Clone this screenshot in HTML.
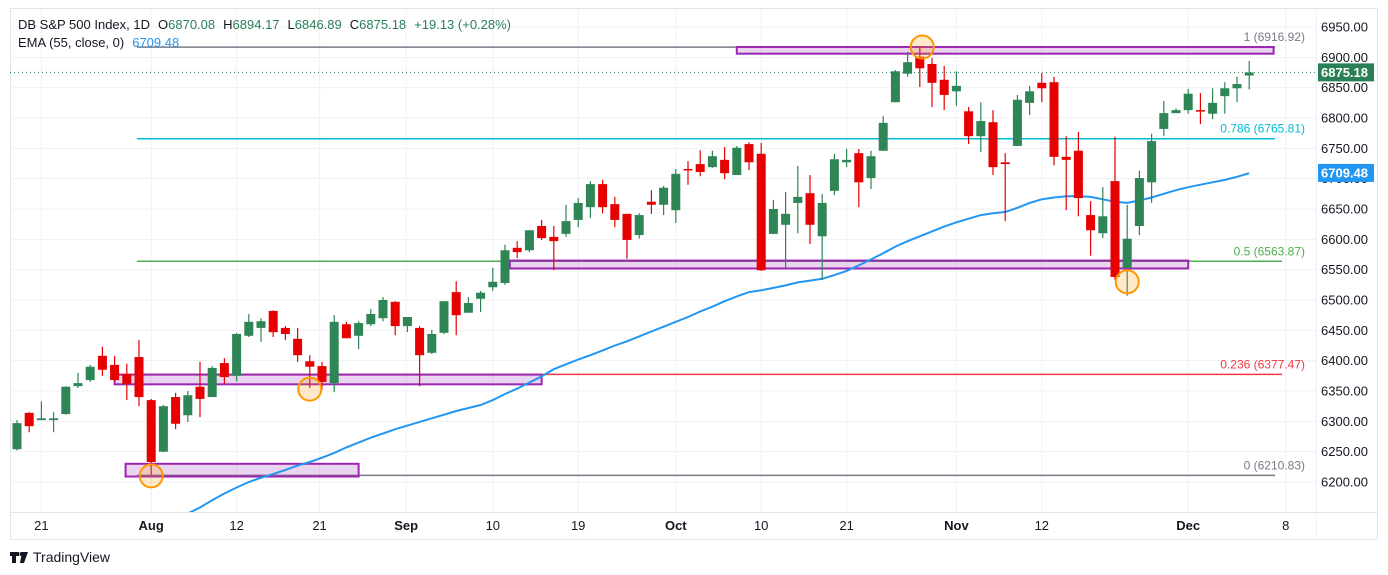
<!DOCTYPE html>
<html><head><meta charset="utf-8"><style>
html,body{margin:0;padding:0;background:#fff;width:1388px;height:575px;overflow:hidden;font-family:"Liberation Sans",sans-serif}
svg text{font-family:"Liberation Sans",sans-serif}
</style></head><body>
<svg id="c" width="1388" height="575" viewBox="0 0 1388 575"></svg>
<script>
const yTicks=[6950,6900,6850,6800,6750,6700,6650,6600,6550,6500,6450,6400,6350,6300,6250,6200];
const xLabels=["21","Aug","12","21","Sep","10","19","Oct","10","21","Nov","12","Dec","8"];
const xLabelIdx=[2,11,18,24.8,31.9,39,46,54,61,68,77,84,96,104];
const xLabelBold=[0,1,0,0,1,0,0,1,0,0,1,0,1,0];
const opens=[6254,6314,6302,6302,6312,6358,6368,6408,6393,6378,6406,6335,6250,6340,6310,6357,6340,6396,6375,6441,6454,6482,6454,6436,6399,6391,6363,6460,6441,6460,6470,6497,6457,6454,6413,6446,6513,6479,6502,6521,6528,6586,6582,6622,6604,6609,6632,6653,6691,6658,6642,6607,6662,6657,6648,6716,6724,6719,6731,6706,6757,6741,6609,6624,6660,6676,6605,6680,6727,6742,6701,6746,6826,6873,6901,6889,6863,6844,6811,6770,6793,6727,6754,6825,6858,6859,6736,6746,6640,6610,6696,6553,6622,6694,6782,6808,6813,6813,6807,6836,6849,6870];
const highs=[6302,6315,6333,6315,6358,6380,6393,6423,6408,6395,6434,6337,6327,6347,6350,6398,6391,6404,6446,6477,6470,6483,6457,6454,6409,6398,6475,6464,6465,6485,6505,6498,6472,6457,6451,6498,6531,6505,6515,6553,6591,6597,6615,6632,6622,6657,6668,6696,6698,6670,6642,6643,6681,6688,6716,6729,6747,6746,6752,6754,6760,6759,6665,6678,6721,6706,6675,6741,6749,6749,6746,6803,6879,6909,6917,6899,6886,6877,6818,6826,6813,6742,6838,6853,6874,6868,6770,6777,6663,6686,6769,6657,6713,6774,6828,6816,6848,6841,6849,6859,6868,6894];
const lows=[6252,6282,6302,6282,6311,6355,6365,6375,6366,6335,6325,6212,6249,6287,6299,6307,6340,6362,6366,6439,6431,6439,6434,6398,6355,6352,6348,6437,6419,6457,6465,6442,6447,6358,6411,6444,6442,6479,6480,6515,6525,6569,6579,6599,6549,6604,6620,6635,6643,6620,6568,6601,6642,6640,6627,6690,6704,6718,6699,6706,6714,6548,6609,6553,6610,6592,6533,6673,6719,6653,6683,6746,6826,6868,6851,6818,6813,6820,6757,6744,6706,6630,6754,6805,6826,6722,6648,6638,6573,6602,6533,6507,6607,6660,6770,6808,6807,6790,6798,6807,6826,6847];
const closes=[6297,6292,6305,6305,6357,6363,6390,6385,6368,6362,6340,6233,6325,6296,6343,6337,6388,6373,6444,6464,6465,6447,6444,6409,6390,6365,6464,6437,6462,6477,6500,6457,6472,6409,6444,6498,6475,6495,6512,6530,6582,6579,6615,6602,6597,6630,6660,6691,6653,6632,6599,6640,6657,6685,6708,6714,6711,6737,6709,6751,6727,6549,6650,6642,6670,6624,6660,6732,6731,6694,6737,6792,6877,6892,6882,6858,6838,6853,6770,6795,6719,6724,6830,6844,6849,6736,6731,6668,6615,6638,6538,6601,6701,6762,6808,6813,6840,6812,6825,6849,6856,6875];
const emaStart=14;
const ema=[6148,6158,6170,6181,6191,6200,6207,6213,6220,6227,6233,6240,6248,6257,6265,6273,6280,6287,6293,6299,6305,6311,6317,6322,6327,6335,6345,6354,6364,6374,6386,6394,6402,6409,6417,6425,6432,6440,6448,6456,6464,6472,6481,6489,6498,6506,6513,6516,6520,6524,6529,6532,6535,6541,6548,6557,6567,6577,6588,6597,6605,6613,6621,6628,6634,6640,6643,6645,6652,6660,6666,6669,6671,6671,6670,6666,6662,6660,6664,6669,6675,6681,6686,6690,6694,6698,6703,6709];
const fibLevels=[6916.92,6765.81,6563.87,6377.47,6210.83];
const fibNames=["1","0.786","0.5","0.236","0"];
const fibColors=["#787b86","#00bcd4","#4caf50","#f23645","#787b86"];
const boxes=[[59,103,6917,6906],[40.4,96,6565,6552],[8.0,43,6377,6361],[8.9,28,6230,6209]];
const circles=[[11,6210],[24,6353],[74.2,6917],[91,6530]];
const lastPrice=6875.18, emaLast=6709.48;

const svg=document.getElementById('c');const NS='http://www.w3.org/2000/svg';
function el(t,a,p){const e=document.createElementNS(NS,t);for(const k in a)e.setAttribute(k,a[k]);(p||svg).appendChild(e);return e;}
const X=i=>17+i*12.2;
const Y=p=>482-(p-6200)*0.60667;
const PL=10,PR=1316,PT=8,PB=512;
let r=el('rect',{x:10.5,y:8.5,width:1367,height:531,fill:'#fff',stroke:'#e0e3eb'});

const grid=el('g',{});
yTicks.forEach(t=>el('line',{x1:PL,x2:PR,y1:Y(t),y2:Y(t),stroke:'#f0f1f4'},grid));
xLabelIdx.forEach(i=>el('line',{x1:X(i),x2:X(i),y1:PT,y2:PB,stroke:'#f0f1f4'},grid));
el('line',{x1:PL,x2:1378,y1:PB+0.5,y2:PB+0.5,stroke:'#e0e3eb'});
el('line',{x1:PR+0.5,x2:PR+0.5,y1:PT,y2:540,stroke:'#f0f1f4'});
fibLevels.forEach((v,k)=>{
 const l=el('line',{x1:137,x2:k==2||k==3?1282:1275,y1:Y(v),y2:Y(v),stroke:fibColors[k],'stroke-width':1.5});
 
 const t=el('text',{x:1305,y:Y(v)-6,'text-anchor':'end','font-size':12,fill:fibColors[k]});
 t.textContent=fibNames[k]+' ('+v.toFixed(2)+')';
 
});
boxes.forEach(b=>{
 const bx=el('rect',{x:X(b[0]),y:Y(b[2]),width:X(b[1])-X(b[0]),height:Y(b[3])-Y(b[2]),fill:'rgba(156,39,176,0.2)',stroke:'#9c27b0','stroke-width':2});
 
});
let pts=ema.map((v,k)=>X(k+emaStart).toFixed(1)+','+Y(v).toFixed(1)).join(' ');
const cp=el('clipPath',{id:'pc'});el('rect',{x:PL,y:PT,width:PR-PL,height:PB-PT},cp);
const em=el('polyline',{points:pts,fill:'none',stroke:'#2196f3','stroke-width':2,'clip-path':'url(#pc)'});

const pl=el('line',{x1:PL,x2:PR,y1:Y(lastPrice),y2:Y(lastPrice),stroke:'#2a8056','stroke-dasharray':'1,3'});

const cg=el('g',{});
opens.forEach((o,i)=>{
 const c=closes[i],up=c>=o,col=up?'#2e8555':'#e60000',x=X(i);
 const w=el('line',{x1:x,x2:x,y1:Y(highs[i]),y2:Y(lows[i]),stroke:col,'stroke-width':1.2},cg);
 
 const top=Y(Math.max(o,c)),h=Math.max(1.5,Y(Math.min(o,c))-top);
 const b=el('rect',{x:x-4.5,y:top,width:9,height:h,fill:col},cg);
 
});
circles.forEach(cc=>{
 const ci=el('circle',{cx:X(cc[0]),cy:Y(cc[1]),r:11.5,fill:'rgba(255,152,0,0.2)',stroke:'#ff9800','stroke-width':2});
 
});
yTicks.forEach(t=>{const tx=el('text',{x:1368,y:Y(t)+4.5,'text-anchor':'end','font-size':13,fill:'#131722'});tx.textContent=t.toFixed(2);
 });
function tag(v,col,name){const y=Y(v);const g=el('g',{});
 el('rect',{x:1318,y:y-9,width:56,height:18,fill:col},g);
 const t=el('text',{x:1368,y:y+4.5,'text-anchor':'end','font-size':13,'font-weight':'bold',fill:'#fff'},g);t.textContent=v.toFixed(2);}
tag(lastPrice,'#2a8056','last-price-tag');tag(emaLast,'#2196f3','ema-value-tag');
xLabels.forEach((s,k)=>{const t=el('text',{x:X(xLabelIdx[k]),y:530,'text-anchor':'middle','font-size':13,fill:'#131722','font-weight':xLabelBold[k]?'bold':'normal'});t.textContent=s;
 });
const lg=el('text',{x:18,y:29,'font-size':13,fill:'#131722'});
lg.innerHTML='<tspan>DB S&amp;P 500 Index, 1D</tspan><tspan dx="8">O</tspan><tspan fill="#2a8056">6870.08</tspan><tspan dx="8">H</tspan><tspan fill="#2a8056">6894.17</tspan><tspan dx="8">L</tspan><tspan fill="#2a8056">6846.89</tspan><tspan dx="8">C</tspan><tspan fill="#2a8056">6875.18</tspan><tspan dx="8" fill="#2a8056">+19.13 (+0.28%)</tspan>';
const lg2=el('text',{x:18,y:47,'font-size':13,fill:'#131722'});
lg2.innerHTML='<tspan>EMA (55, close, 0)</tspan><tspan dx="8" fill="#2196f3">6709.48</tspan>';
const lo=el('g',{});
el('path',{d:'M10 552h9v4h-3v7h-4v-7h-2zM22 552h6l-4 11h-4z',fill:'#131722'},lo);
el('circle',{cx:21.5,cy:554,r:2,fill:'#131722'},lo);
const lt=el('text',{x:33,y:562,'font-size':14,fill:'#131722'},lo);lt.textContent='TradingView';
</script>
</body></html>
